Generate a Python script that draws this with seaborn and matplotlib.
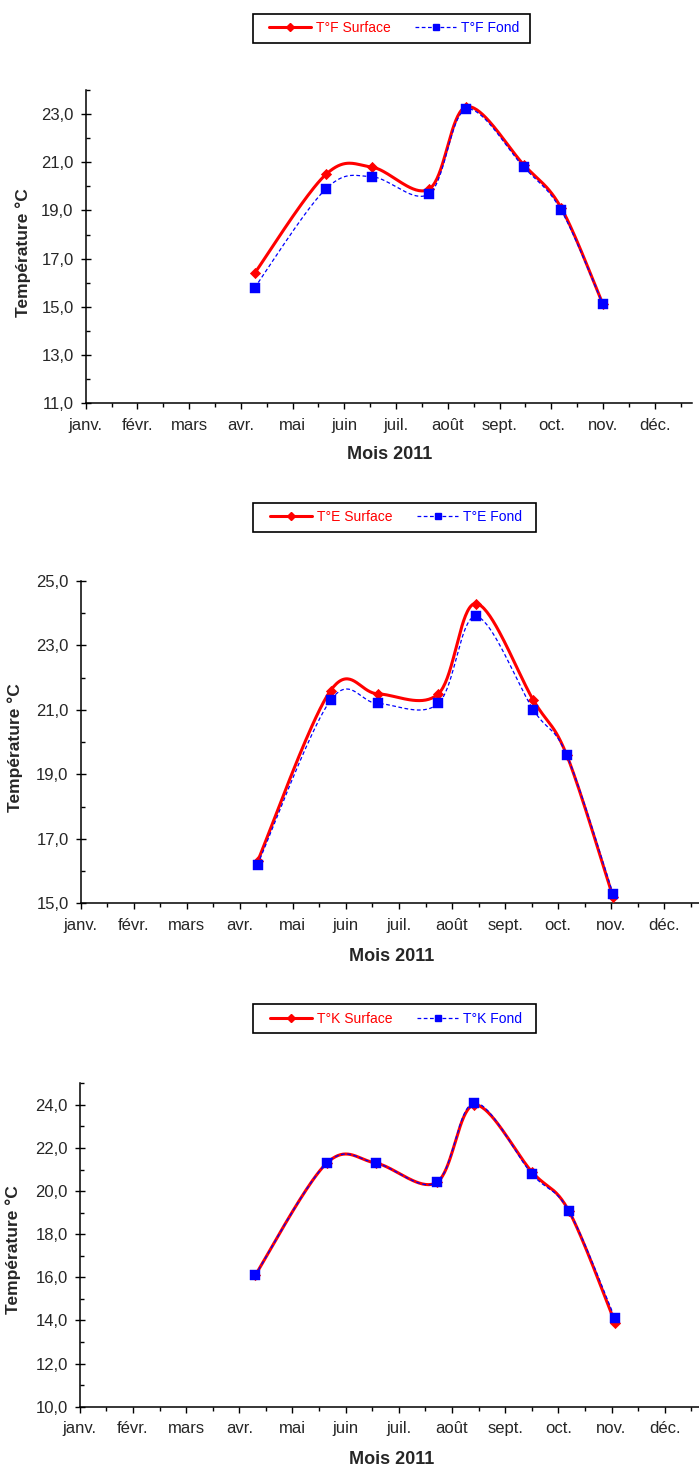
import calendar

import matplotlib
matplotlib.use("Agg")
import matplotlib.pyplot as plt
from matplotlib.lines import Line2D
from matplotlib.patches import Rectangle
from matplotlib.ticker import FixedLocator, FuncFormatter
import numpy as np
import pandas as pd
import seaborn as sns

# ---------------------------------------------------------------- data
months = ["janv.", "févr.", "mars", "avr.", "mai", "juin",
          "juil.", "août", "sept.", "oct.", "nov.", "déc."]

dates_F = ["2011-04-09", "2011-05-21", "2011-06-17", "2011-07-21",
           "2011-08-12", "2011-09-15", "2011-10-07", "2011-11-01"]
surface_F = [16.4, 20.5, 20.8, 19.9, 23.3, 20.9, 19.1, 15.1]
fond_F = [15.8, 19.9, 20.4, 19.7, 23.2, 20.8, 19.0, 15.1]

dates_E = ["2011-04-11", "2011-05-23", "2011-06-19", "2011-07-24",
           "2011-08-15", "2011-09-17", "2011-10-06", "2011-11-02"]
surface_E = [16.3, 21.6, 21.5, 21.5, 24.3, 21.3, 19.6, 15.2]
fond_E = [16.2, 21.3, 21.2, 21.2, 23.9, 21.0, 19.6, 15.3]

dates_K = ["2011-04-10", "2011-05-21", "2011-06-18", "2011-07-23",
           "2011-08-14", "2011-09-16", "2011-10-07", "2011-11-03"]
surface_K = [16.1, 21.3, 21.3, 20.4, 24.0, 20.9, 19.1, 13.9]
fond_K = [16.1, 21.3, 21.3, 20.4, 24.1, 20.8, 19.1, 14.1]

# ---------------------------------------------------------------- style
sns.set_style("white")
plt.rcParams["font.family"] = ["Liberation Sans", "DejaVu Sans"]

RED = "#ff0000"
BLUE = "#0000ff"
W, H = 699, 1470


def month_position(date_str):
    """Position on a month axis: 0 = 1 Jan, 1 = 1 Feb, ..."""
    d = pd.Timestamp(date_str)
    ndays = calendar.monthrange(d.year, d.month)[1]
    return (d.month - 1) + (d.day - 1) / ndays


def smooth(x, y, steps=40):
    """Smoothed line through the points (cubic Bezier, Catmull-Rom tangents)."""
    p = np.column_stack([x, y]).astype(float)
    pad = np.vstack([p[0], p, p[-1]])
    out = []
    t = np.linspace(0, 1, steps)[:, None]
    for i in range(len(p) - 1):
        p0, p1 = pad[i + 1], pad[i + 2]
        c1 = p0 + (pad[i + 2] - pad[i]) / 6
        c2 = p1 - (pad[i + 3] - pad[i + 1]) / 6
        seg = ((1 - t) ** 3) * p0 + 3 * ((1 - t) ** 2) * t * c1 \
            + 3 * (1 - t) * t ** 2 * c2 + t ** 3 * p1
        out.append(seg if i == 0 else seg[1:])
    seg = np.vstack(out)
    return pd.DataFrame({"x": seg[:, 0], "y": seg[:, 1]})


comma = FuncFormatter(lambda v, _: f"{v:.1f}".replace(".", ","))

panels = [
    dict(site="F", dates=dates_F, surf=surface_F, fond=fond_F,
         box=(85.7, 90.0, 692.0, 403.3), ylim=(11, 24), month_px=51.73,
         major=np.arange(11, 24, 2), minor=np.arange(12, 25, 2),
         legend=(394.3, 28.3), frame=(253, 14, 530, 42.7),
         ylab=(23.4, 252.5), xlab=(390, 455)),
    dict(site="E", dates=dates_E, surf=surface_E, fond=fond_E,
         box=(80.7, 581.0, 699.0, 903.3), ylim=(15, 25), month_px=53.05,
         major=np.arange(15, 26, 2), minor=np.arange(16, 25, 2),
         legend=(396.3, 517.2), frame=(252.7, 502.7, 535.7, 531.7),
         ylab=(15.4, 747.3), xlab=(392, 956.7)),
    dict(site="K", dates=dates_K, surf=surface_K, fond=fond_K,
         box=(79.8, 1083.3, 699.0, 1406.7), ylim=(10, 25), month_px=53.17,
         major=np.arange(10, 25, 2), minor=np.arange(11, 26, 2),
         legend=(396.3, 1018.7), frame=(252.5, 1004.0, 535.5, 1033.3),
         ylab=(13.6, 1250.0), xlab=(392, 1460)),
]

fig = plt.figure(figsize=(W / 100, H / 100), dpi=100)

for pnl in panels:
    x0, y0, x1, y1 = pnl["box"]
    ax = fig.add_axes([x0 / W, 1 - y1 / H, (x1 - x0) / W, (y1 - y0) / H])
    ax.set_xlim(0, (x1 - x0) / pnl["month_px"])
    ax.set_ylim(*pnl["ylim"])

    xs = [month_position(d) for d in pnl["dates"]]

    # surface: thick red smoothed line with diamonds
    sns.lineplot(data=smooth(xs, pnl["surf"]), x="x", y="y", sort=False,
                 estimator=None, color=RED, linewidth=2.2, ax=ax, zorder=3)
    sns.scatterplot(x=xs, y=pnl["surf"], marker="D", s=26, color=RED,
                    edgecolor=RED, linewidth=0.6, ax=ax, zorder=4)
    # bottom: thin blue dashed smoothed line with squares
    sns.lineplot(data=smooth(xs, pnl["fond"]), x="x", y="y", sort=False,
                 estimator=None, color=BLUE, linewidth=0.9,
                 linestyle=(0, (3, 2)), ax=ax, zorder=5)
    sns.scatterplot(x=xs, y=pnl["fond"], marker="s", s=50, color=BLUE,
                    edgecolor=BLUE, linewidth=0.3, ax=ax, zorder=6)

    # axes frame
    for side in ("top", "right"):
        ax.spines[side].set_visible(False)
    for side in ("left", "bottom"):
        ax.spines[side].set_color("black")
        ax.spines[side].set_linewidth(1.1)

    ax.xaxis.set_major_locator(FixedLocator(np.arange(12)))
    ax.xaxis.set_minor_locator(FixedLocator(np.arange(12) + 0.5))
    ax.set_xticklabels(months)
    ax.yaxis.set_major_locator(FixedLocator(pnl["major"]))
    ax.yaxis.set_minor_locator(FixedLocator(pnl["minor"]))
    ax.yaxis.set_major_formatter(comma)

    ax.tick_params(axis="x", which="major", direction="out", length=4,
                   width=1.0, color="black", labelsize=12, pad=6.5)
    ax.tick_params(axis="x", which="minor", direction="out", length=3,
                   width=1.0, color="black")
    ax.tick_params(axis="y", which="major", direction="inout", length=6.5,
                   width=1.0, color="black", labelsize=12, pad=5.5)
    ax.tick_params(axis="y", which="minor", direction="in", length=3,
                   width=1.0, color="black")
    ax.tick_params(bottom=True, left=True, which="both")

    # axis titles
    ax.set_xlabel("Mois 2011", fontsize=13, fontweight="bold")
    ax.set_ylabel("Température °C", fontsize=12.5, fontweight="bold")
    ax.xaxis.label.set(va="center", ha="center")
    ax.yaxis.label.set(va="center", ha="center", rotation_mode="default")
    ax.xaxis.set_label_coords((pnl["xlab"][0] - x0) / (x1 - x0),
                              (y1 - pnl["xlab"][1]) / (y1 - y0))
    ax.yaxis.set_label_coords((pnl["ylab"][0] - x0) / (x1 - x0),
                              (y1 - pnl["ylab"][1]) / (y1 - y0))

    # legend above each chart, inside a plain black box
    site = pnl["site"]
    handles = [
        Line2D([], [], color=RED, lw=2.2, marker="D", markersize=3.8,
               markeredgecolor=RED),
        Line2D([], [], color=BLUE, lw=0.9, ls=(0, (3, 2)), marker="s",
               markersize=4.8, markeredgecolor=BLUE),
    ]
    labels = [f"T°{site} Surface", f"T°{site} Fond"]
    cx, cy = pnl["legend"]
    fig.legend(handles, labels, loc="center",
               bbox_to_anchor=(cx / W, 1 - cy / H), ncol=2,
               frameon=False, fontsize=10, handlelength=3.0,
               handletextpad=0.35, columnspacing=1.75, borderpad=0.3,
               borderaxespad=0, labelcolor=[RED, BLUE])
    fx0, fy0, fx1, fy1 = pnl["frame"]
    fig.add_artist(Rectangle((fx0 / W, 1 - fy1 / H), (fx1 - fx0) / W,
                             (fy1 - fy0) / H, transform=fig.transFigure,
                             fill=False, edgecolor="black", linewidth=1.2))

fig.savefig("out.png", dpi=100, facecolor="white")
